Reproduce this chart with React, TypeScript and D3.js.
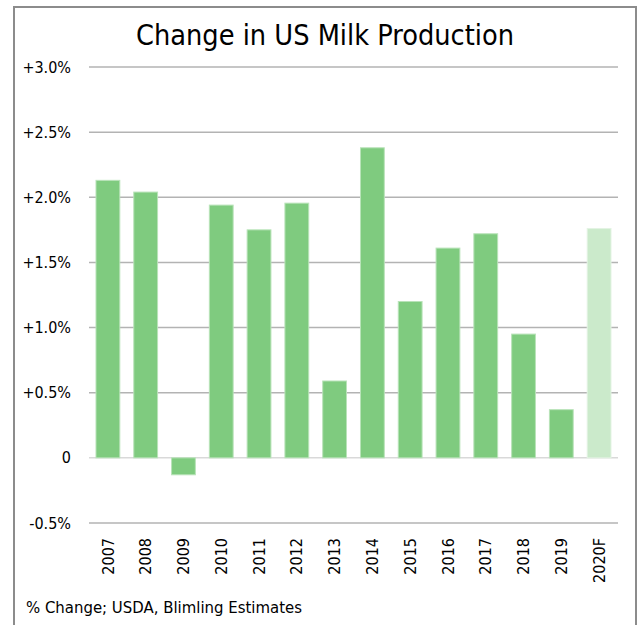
import React from "react";
import * as d3 from "d3";

const categories = ["2007","2008","2009","2010","2011","2012","2013","2014","2015","2016","2017","2018","2019","2020F"];
const values = [2.13, 2.04, -0.13, 1.94, 1.75, 1.955, 0.59, 2.38, 1.20, 1.61, 1.72, 0.95, 0.37, 1.76];
const forecast = [false,false,false,false,false,false,false,false,false,false,false,false,false,true];
const yTicks = [-0.5, 0, 0.5, 1.0, 1.5, 2.0, 2.5, 3.0];
const yTickLabels = ["-0.5%", "0", "+0.5%", "+1.0%", "+1.5%", "+2.0%", "+2.5%", "+3.0%"];

const W = 637, H = 625;
const FONT = "'DejaVu Sans Condensed', 'DejaVu Sans', sans-serif";

export default function App() {
  const x = d3.scaleBand<string>().domain(categories).range([89, 618]).paddingInner(0.37).paddingOuter(0.185);
  const y = d3.scaleLinear().domain([-0.5, 3.0]).range([523, 67]);
  return (
    <svg width={W} height={H} style={{ position: "absolute", left: 0, top: 0, background: "#fff" }}>
      <rect x={14} y={7} width={622} height={640} fill="none" stroke="#8c8c8c" strokeWidth={2} />
      <text x={325} y={45} textAnchor="middle" fontFamily={FONT} fontSize={28.6} fill="#000">Change in US Milk Production</text>
      {yTicks.map((t, i) => (
        <g key={t}>
          <line x1={89} x2={618} y1={y(t)} y2={y(t)} stroke={t === 0 ? "#d9d9d9" : "#b3b3b3"} strokeWidth={1.5} />
          <text x={71} y={y(t)} dy="0.35em" textAnchor="end" fontFamily={FONT} fontSize={16} fill="#000">{yTickLabels[i]}</text>
        </g>
      ))}
      {categories.map((c, i) => {
        const v = values[i];
        const y0 = y(0), y1 = y(v);
        return (
          <rect key={c} x={x(c)} width={x.bandwidth()} y={Math.min(y0, y1)} height={Math.abs(y1 - y0)}
            fill={forecast[i] ? "#cbeacb" : "#7fcb7f"} stroke={forecast[i] ? "#e3f3e3" : "#b9e3b9"} strokeWidth={1} />
        );
      })}
      {categories.map((c) => (
        <text key={c} transform={`translate(${(x(c) as number) + x.bandwidth() / 2},538) rotate(-90)`}
          dy="0.35em" textAnchor="end" fontFamily={FONT} fontSize={16} fill="#000">{c}</text>
      ))}
      <text x={26} y={613} fontFamily={FONT} fontSize={16.6} fill="#000">% Change; USDA, Blimling Estimates</text>
    </svg>
  );
}
